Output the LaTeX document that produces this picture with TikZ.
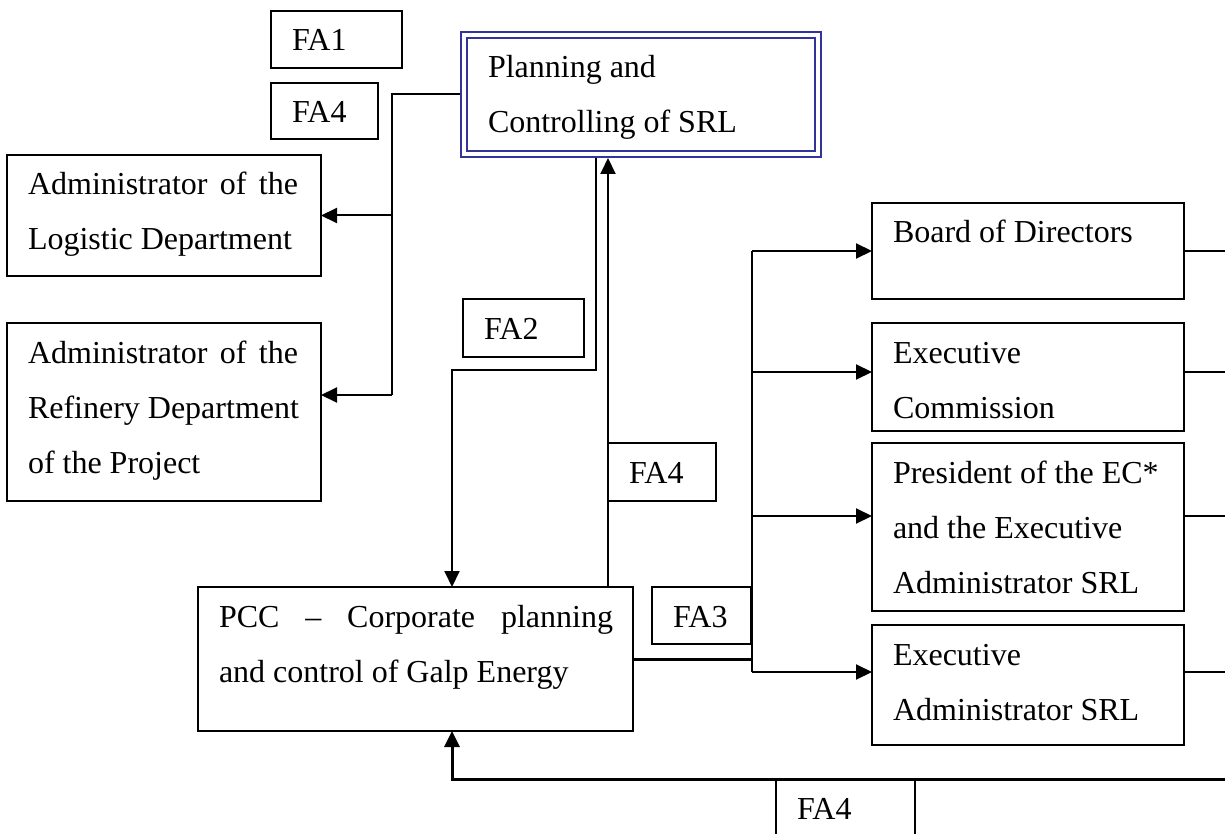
\documentclass[tikz,border=0pt]{standalone}
\usepackage{fontspec}
\setmainfont{Liberation Serif}
\usetikzlibrary{arrows.meta}
\definecolor{planblue}{RGB}{51,51,153}

% Text block inside a box: width, height, left inset, first baseline, lines
\newcommand\boxtext[5]{\parbox[t][#2][t]{#1}{\leftskip=#3\relax\rightskip=0pt plus 1fil\relax\parfillskip=0pt\relax\vspace*{\dimexpr#4-25pt\relax}\noindent\rule{0pt}{25pt}#5\par}}

% Box from (x1,y1) to (x2,y2), y measured downwards
\newcommand\orgbox[7][]{\node[box,#1] (#2) at (#3,#4) {\boxtext{\dimexpr#5pt-#3pt\relax}{\dimexpr#6pt-#4pt\relax}{21pt}{40pt}{#7}};}

\tikzset{
  box/.style={draw, line width=2pt, inner sep=0pt, outer sep=0pt, anchor=north west,
    font=\fontsize{32pt}{55pt}\selectfont},
  planbox/.style={draw=planblue, double=white, double distance=4pt, line width=1.8pt,
    inner sep=0pt, outer sep=3.8pt, anchor=north west, font=\fontsize{32pt}{55pt}\selectfont},
  conn/.style={line width=2pt},
  heavy/.style={line width=3pt},
  tip/.style={-{Triangle[length=16pt,width=15pt]}},
}

\begin{document}
\begin{tikzpicture}[x=1pt,y=-1pt]
\useasboundingbox (0,0) rectangle (1225,834);
\clip (0,0) rectangle (1225,834);

% boxes
\orgbox{fa1}{271}{11}{402}{68}{FA1}
\orgbox{fa4a}{271}{83}{378}{139}{FA4}
\node[planbox] (plan) at (460,31) {\boxtext{354.4pt}{119.4pt}{24.2pt}{43.2pt}{Planning and\\Controlling of SRL}};
\orgbox{log}{7}{155}{321}{276}{\makebox[270pt][s]{Administrator of the}\\Logistic Department}
\orgbox{ref}{7}{323}{321}{501}{\makebox[270pt][s]{Administrator of the}\\Refinery Department\\of the Project}
\orgbox{fa2}{463}{299}{584}{357}{FA2}
\orgbox{fa4b}{608}{443}{716}{501}{FA4}
\orgbox{pcc}{198}{587}{633}{731}{\makebox[394pt][s]{PCC – Corporate planning}\\and control of Galp Energy}
\orgbox{fa3}{652}{587}{751}{644}{FA3}
\orgbox{board}{872}{203}{1184}{299}{Board of Directors}
\orgbox{exc}{872}{323}{1184}{431}{Executive\\Commission}
\orgbox{pres}{872}{443}{1184}{611}{President of the EC*\\and the Executive\\Administrator SRL}
\orgbox{exa}{872}{625}{1184}{745}{Executive\\Administrator SRL}
\orgbox{fa4c}{776}{779}{915}{850}{FA4}

% planning -> administrators
\coordinate (lv) at (392,395);
\draw[conn] (plan.west) -| (lv);
\draw[conn,tip] (lv) -- (lv -| ref.east);
\draw[conn,tip] (log.east -| lv) -- (log.east);

% planning <-> PCC
\coordinate (dn) at (596,370);
\coordinate (dn2) at (452,370);
\draw[conn,tip] (plan.south -| dn) -- (dn) -- (dn2) -- (pcc.north -| dn2);
\coordinate (up) at (608,400);
\draw[conn,tip] (pcc.north -| up) -- (plan.south -| up);

% PCC -> governing bodies
\coordinate (bus) at (752,659);
\coordinate (bt) at (752,251);
\coordinate (b2) at (752,372);
\coordinate (b3) at (752,516);
\coordinate (bb) at (752,672);
\draw[heavy] (pcc.east) -- (bus);
\draw[conn] (bt) -- (bb);
\draw[conn,tip] (bt) -- (bt -| board.west);
\draw[conn,tip] (b2) -- (b2 -| exc.west);
\draw[conn,tip] (b3) -- (b3 -| pres.west);
\draw[conn,tip] (bb) -- (bb -| exa.west);

% return lines on the right
\coordinate (rx) at (1240,0);
\draw[conn] (bt -| board.east) -- (bt -| rx);
\draw[conn] (b2 -| exc.east) -- (b2 -| rx);
\draw[conn] (b3 -| pres.east) -- (b3 -| rx);
\draw[conn] (bb -| exa.east) -- (bb -| rx);

% feedback to PCC
\coordinate (fb) at (452,779);
\draw[heavy,tip] (fb -| rx) -- (fb) -- (pcc.south -| fb);
\end{tikzpicture}
\end{document}
